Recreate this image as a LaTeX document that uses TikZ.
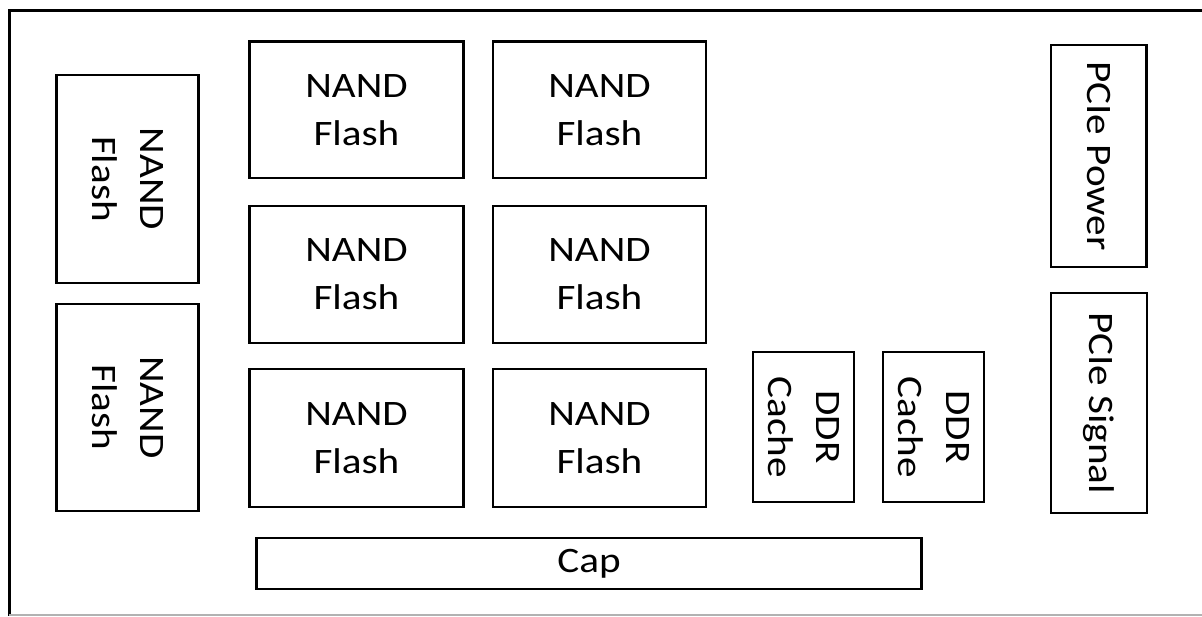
\documentclass[tikz,border=0pt]{standalone}
\usepackage{fontspec}
\setmainfont{Carlito}[FakeStretch=1.15]
\begin{document}
\begin{tikzpicture}[x=0.5pt,y=-0.5pt,
  box/.style={draw=black,line width=1.4pt,inner sep=0pt,outer sep=0pt,
    align=center,font=\fontsize{17.9}{24}\selectfont,text=black},
  vbox/.style={box,rotate=-90},
  sz/.style 2 args={minimum width=#1*0.5pt,minimum height=#2*0.5pt}]
\useasboundingbox (0,0) rectangle (1202,616);
% outer frame (cropped on right)
\coordinate (ftr) at (1202,10);
\coordinate (ftl) at (9,10);
\coordinate (fbl) at (9,616);
\coordinate (gbl) at (9,615);
\coordinate (gbr) at (1202,615);
\draw[line width=1.5pt,black] (ftr) -- (ftl) -- (fbl);
\draw[line width=0.6pt,black!30] (gbl) -- (gbr);
% left vertical NAND
\node[vbox,sz={208}{142}] (L1) at (127.5,179) {NAND\\Flash};
\node[vbox,sz={207}{142}] (L2) at (127.5,407.5) {NAND\\Flash};
% grid of NAND
\node[box,sz={214}{136.5}] (n11) at (356.5,109.75) {NAND\\Flash};
\node[box,sz={213}{136.5}] (n12) at (599.5,109.75) {NAND\\Flash};
\node[box,sz={214}{137}] (n21) at (356.5,274.5) {NAND\\Flash};
\node[box,sz={213}{137}] (n22) at (599.5,274.5) {NAND\\Flash};
\node[box,sz={214}{138}] (n31) at (356.5,438) {NAND\\Flash};
\node[box,sz={213}{138}] (n32) at (599.5,438) {NAND\\Flash};
% DDR
\node[vbox,sz={150}{101}] (d1) at (803.5,427) {DDR\\Cache};
\node[vbox,sz={150}{101}] (d2) at (933.5,427) {DDR\\Cache};
% PCIe
\node[vbox,sz={222}{95.5}] (pp) at (1098.75,156) {PCIe Power};
\node[vbox,sz={220}{96}] (ps) at (1099,403) {PCIe Signal};
% Cap
\node[box,sz={665}{51}] (cap) at (589,563.5) {Cap};
\end{tikzpicture}
\end{document}
